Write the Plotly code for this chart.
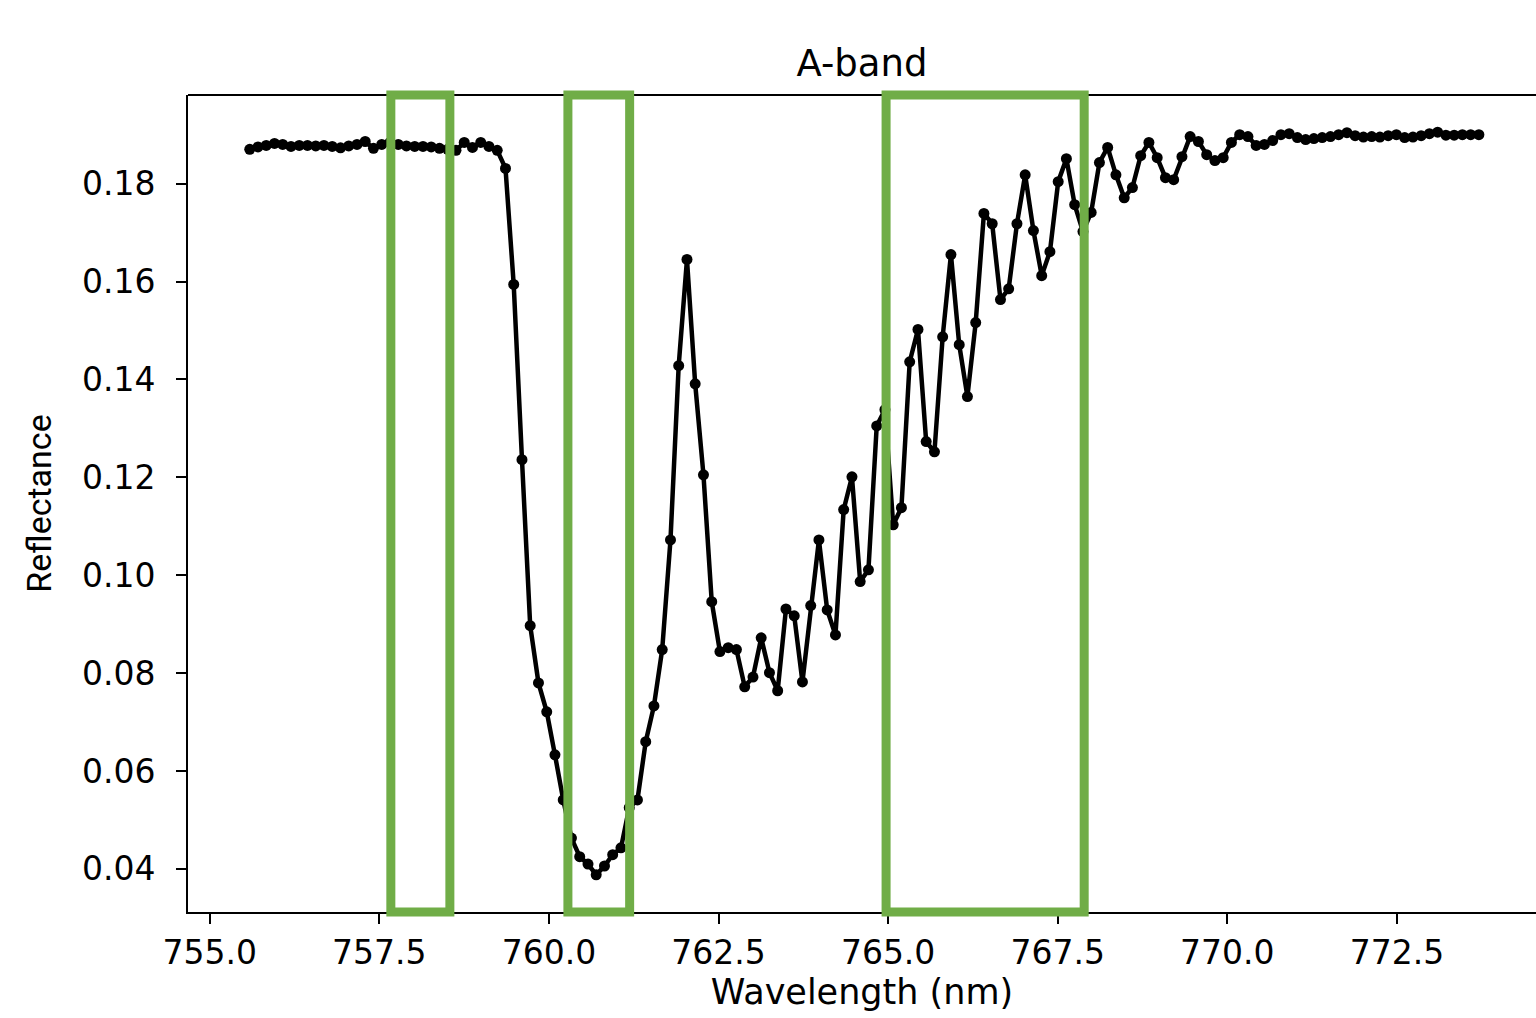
import plotly.graph_objects as go

wavelength_nm = [
    755.590, 755.712, 755.833, 755.955, 756.076, 756.198, 756.320, 756.441, 756.563, 756.684,
    756.806, 756.928, 757.049, 757.171, 757.292, 757.414, 757.536, 757.657, 757.779, 757.900,
    758.022, 758.144, 758.265, 758.387, 758.508, 758.630, 758.752, 758.873, 758.995, 759.116,
    759.238, 759.360, 759.481, 759.603, 759.724, 759.846, 759.968, 760.089, 760.211, 760.332,
    760.454, 760.576, 760.697, 760.819, 760.940, 761.062, 761.184, 761.305, 761.427, 761.548,
    761.670, 761.792, 761.913, 762.035, 762.156, 762.278, 762.400, 762.521, 762.643, 762.764,
    762.886, 763.008, 763.129, 763.251, 763.372, 763.494, 763.616, 763.737, 763.859, 763.980,
    764.102, 764.224, 764.345, 764.467, 764.588, 764.710, 764.832, 764.953, 765.075, 765.196,
    765.318, 765.440, 765.561, 765.683, 765.804, 765.926, 766.048, 766.169, 766.291, 766.412,
    766.534, 766.656, 766.777, 766.899, 767.020, 767.142, 767.264, 767.385, 767.507, 767.628,
    767.750, 767.872, 767.993, 768.115, 768.236, 768.358, 768.480, 768.601, 768.723, 768.844,
    768.966, 769.088, 769.209, 769.331, 769.452, 769.574, 769.696, 769.817, 769.939, 770.060,
    770.182, 770.304, 770.425, 770.547, 770.668, 770.790, 770.912, 771.033, 771.155, 771.276,
    771.398, 771.520, 771.641, 771.763, 771.884, 772.006, 772.128, 772.249, 772.371, 772.492,
    772.614, 772.736, 772.857, 772.979, 773.100, 773.222, 773.344, 773.465, 773.587, 773.708,
]

reflectance = [
    0.1870, 0.1875, 0.1878, 0.1882, 0.1880, 0.1876, 0.1878, 0.1878, 0.1877, 0.1878,
    0.1876, 0.1873, 0.1877, 0.1880, 0.1886, 0.1872, 0.1880, 0.1884, 0.1880, 0.1877,
    0.1876, 0.1876, 0.1875, 0.1872, 0.1870, 0.1868, 0.1884, 0.1874, 0.1884, 0.1876,
    0.1868, 0.1831, 0.1594, 0.1236, 0.0897, 0.0780, 0.0721, 0.0633, 0.0541, 0.0463,
    0.0425, 0.0410, 0.0388, 0.0406, 0.0429, 0.0443, 0.0525, 0.0541, 0.0660, 0.0733,
    0.0848, 0.1072, 0.1428, 0.1645, 0.1391, 0.1205, 0.0946, 0.0844, 0.0852, 0.0848,
    0.0772, 0.0792, 0.0872, 0.0801, 0.0764, 0.0931, 0.0917, 0.0782, 0.0938, 0.1072,
    0.0929, 0.0878, 0.1134, 0.1201, 0.0987, 0.1011, 0.1305, 0.1338, 0.1103, 0.1138,
    0.1436, 0.1502, 0.1273, 0.1252, 0.1487, 0.1655, 0.1471, 0.1365, 0.1516, 0.1739,
    0.1718, 0.1563, 0.1585, 0.1718, 0.1818, 0.1704, 0.1612, 0.1661, 0.1804, 0.1851,
    0.1757, 0.1702, 0.1741, 0.1843, 0.1874, 0.1818, 0.1771, 0.1792, 0.1857, 0.1884,
    0.1853, 0.1812, 0.1808, 0.1855, 0.1896, 0.1886, 0.1859, 0.1847, 0.1853, 0.1884,
    0.1900, 0.1896, 0.1878, 0.1880, 0.1888, 0.1900, 0.1902, 0.1894, 0.1890, 0.1892,
    0.1894, 0.1896, 0.1900, 0.1904, 0.1898, 0.1895, 0.1896, 0.1895, 0.1898, 0.1900,
    0.1894, 0.1895, 0.1898, 0.1902, 0.1905, 0.1899, 0.1899, 0.1900, 0.1900, 0.1900,
]

# highlighted wavelength windows (nm)
window_starts = [757.67, 760.28, 764.97]
window_ends = [758.54, 761.19, 767.89]

x_ticks = [755.0, 757.5, 760.0, 762.5, 765.0, 767.5, 770.0, 772.5]
y_ticks = [0.04, 0.06, 0.08, 0.10, 0.12, 0.14, 0.16, 0.18]

FONT = "DejaVu Sans"

fig = go.Figure()
fig.add_trace(go.Scatter(
    x=wavelength_nm, y=reflectance, mode="lines+markers",
    line=dict(color="black", width=4.5),
    marker=dict(color="black", size=11),
    showlegend=False,
))

shapes = []
for x0, x1 in zip(window_starts, window_ends):
    shapes.append(dict(type="rect", xref="x", yref="paper", x0=x0, x1=x1,
                       y0=0.0, y1=1.0, line=dict(color="#70AD47", width=9),
                       fillcolor="rgba(0,0,0,0)", layer="above"))
# top frame line
shapes.append(dict(type="line", xref="paper", yref="paper", x0=0, x1=1, y0=1, y1=1,
                   line=dict(color="black", width=2), layer="below"))

fig.update_layout(
    width=1536, height=1018,
    margin=dict(l=188, r=0, t=95, b=106),
    paper_bgcolor="white", plot_bgcolor="white",
    title=dict(text="A-band", x=0.5, xref="paper", y=1 - 63 / 1018, yref="container",
               xanchor="center", yanchor="middle", font=dict(family=FONT, size=37, color="black")),
    shapes=shapes,
    font=dict(family=FONT, color="black"),
)
fig.update_xaxes(
    range=[754.68, 774.55], tickvals=x_ticks, tickformat=".1f",
    showgrid=False, zeroline=False, showline=True, linecolor="black", linewidth=2,
    ticks="outside", ticklen=10, tickwidth=2, tickcolor="black",
    tickfont=dict(family=FONT, size=33, color="black"), ticklabelstandoff=0,
    title=dict(text="Wavelength (nm)", font=dict(family=FONT, size=35, color="black"), standoff=6),
)
fig.update_yaxes(
    range=[0.0312, 0.1981], tickvals=y_ticks, tickformat=".2f",
    showgrid=False, zeroline=False, showline=True, linecolor="black", linewidth=2,
    ticks="outside", ticklen=10, tickwidth=2, tickcolor="black",
    tickfont=dict(family=FONT, size=33, color="black"), ticklabelstandoff=14,
    title=dict(text="Reflectance", font=dict(family="Roboto", size=34, color="black"), standoff=20),
)

fig.write_html("out.html", config={"displayModeBar": False},
               post_script="document.body.style.margin='0';document.body.style.overflow='hidden';")
